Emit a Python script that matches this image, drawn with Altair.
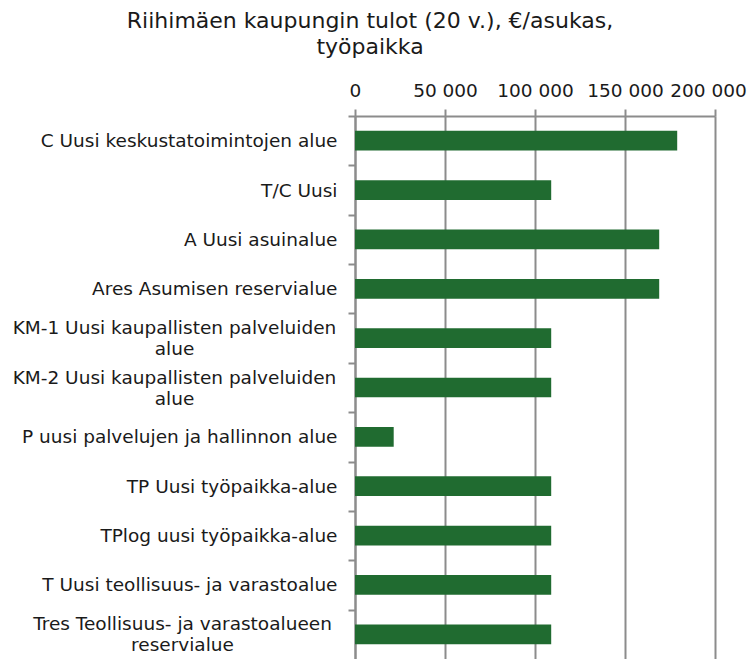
import altair as alt
import pandas as pd

categories = [
    "C Uusi keskustatoimintojen alue",
    "T/C Uusi",
    "A Uusi asuinalue",
    "Ares Asumisen reservialue",
    "KM-1 Uusi kaupallisten palveluiden|alue",
    "KM-2 Uusi kaupallisten palveluiden|alue",
    "P uusi palvelujen ja hallinnon alue",
    "TP Uusi työpaikka-alue",
    "TPlog uusi työpaikka-alue",
    "T Uusi teollisuus- ja varastoalue",
    "Tres Teollisuus- ja varastoalueen|reservialue",
]
values = [179000, 109000, 169000, 169000, 109000, 109000, 21500, 109000, 109000, 109000, 109000]
x_ticks = [0, 50000, 100000, 150000, 200000]
title_lines = ["Riihimäen kaupungin tulot (20 v.), €/asukas,", "työpaikka"]

df = pd.DataFrame({"alue": categories, "tulot": values})

FONT = "DejaVu Sans"
GRAY = "#8c8c8c"
TXT = "#1a1a1a"
FS = 18.5
STEP = 543 / 11
MULTI = "indexof(datum.value, '|') >= 0"

chart = (
    alt.Chart(df)
    .mark_bar(color="#206b30", height=alt.RelativeBandSize(band=0.4))
    .encode(
        x=alt.X(
            "tulot:Q",
            scale=alt.Scale(domain=[0, 200000], nice=False),
            axis=alt.Axis(
                orient="top",
                title=None,
                values=x_ticks,
                labelExpr="replace(format(datum.value, ','), regexp(',', 'g'), ' ')",
                labelOffset={
                    "condition": {"test": "datum.value == 200000", "value": -7},
                    "value": 0,
                },
                grid=True,
                gridColor=GRAY,
                gridWidth=2,
                domainColor=GRAY,
                domainWidth=2,
                tickColor=GRAY,
                tickWidth=2,
                tickSize=7,
                labelPadding=9,
                labelFont=FONT,
                labelFontSize=FS,
                labelColor=TXT,
                labelFlush=False,
                labelOverlap=False,
            ),
        ),
        y=alt.Y(
            "alue:N",
            sort=None,
            scale=alt.Scale(paddingInner=0, paddingOuter=0),
            axis=alt.Axis(
                title=None,
                labelExpr="split(datum.label, '|')",
                tickOffset=-STEP / 2,
                labelOffset={
                    "condition": {"test": MULTI, "value": STEP / 2 - 10.5},
                    "value": STEP / 2,
                },
                domainColor=GRAY,
                domainWidth=2,
                tickColor=GRAY,
                tickWidth=2,
                tickSize=7,
                labelFont=FONT,
                labelFontSize=FS,
                labelColor=TXT,
                labelLineHeight=21,
                labelLimit=400,
                labelAlign={
                    "condition": {"test": MULTI, "value": "center"},
                    "value": "right",
                },
                labelPadding={
                    "condition": [
                        {"test": "indexof(datum.value, 'KM-') == 0", "value": 174},
                        {"test": "indexof(datum.value, 'Tres') == 0", "value": 166},
                    ],
                    "value": 11,
                },
            ),
        ),
    )
    .properties(
        width=360,
        height=543,
        autosize=alt.AutoSizeParams(type="none"),
        padding={"left": 347, "top": 108, "right": 33, "bottom": 0},
        title=alt.TitleParams(
            text=title_lines,
            font=FONT,
            fontSize=22,
            fontWeight="normal",
            color=TXT,
            anchor="middle",
            frame="group",
            dx=-165,
            offset=22,
            lineHeight=26,
        ),
    )
    .configure_view(stroke=None)
)

chart.save("out.html", embed_options={"renderer": "svg", "actions": False})
